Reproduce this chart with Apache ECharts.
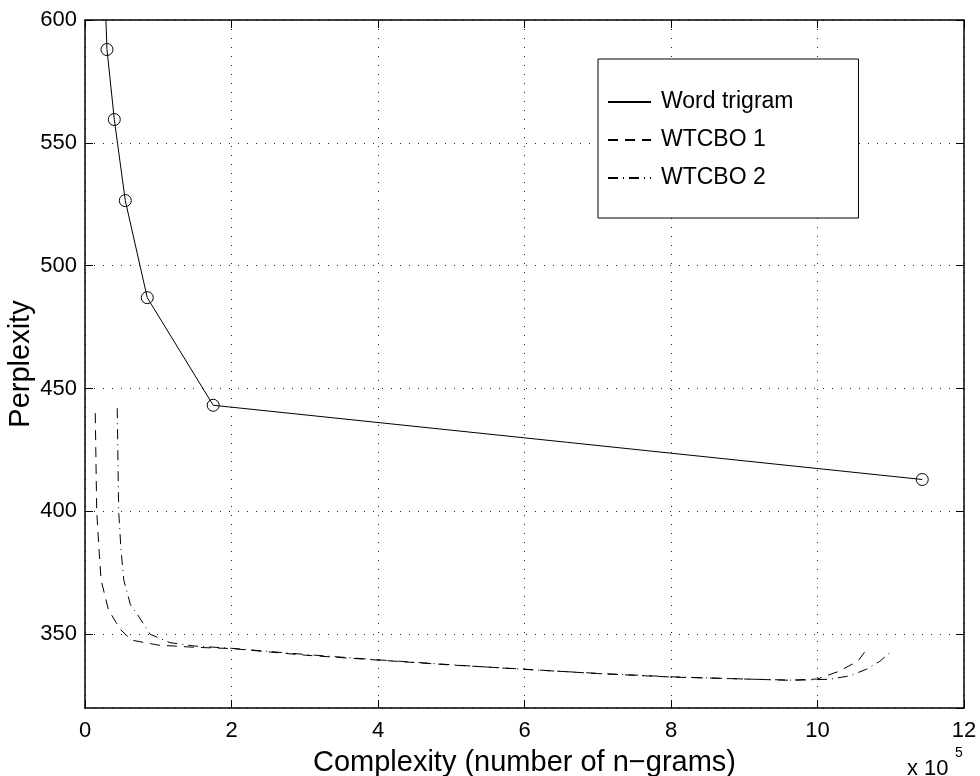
<!DOCTYPE html>
<html>
<head>
<meta charset="utf-8">
<script src="https://cdn.jsdelivr.net/npm/echarts@6/dist/echarts.min.js"></script>
<style>
  html, body { margin: 0; padding: 0; background: #fff; }
  #chart { width: 980px; height: 776px; }
</style>
</head>
<body>
<div id="chart"></div>
<script>
  // complexity in units of 1e5 n-grams, perplexity
  var wordTrigram = [[0.25, 630], [0.30, 588], [0.40, 559.5], [0.55, 526.5], [0.85, 487], [1.75, 443.2], [11.43, 413]]
  var wtcbo1 = [[0.14, 440], [0.15, 420], [0.16, 400], [0.19, 385], [0.22, 372], [0.32, 360], [0.48, 352],
    [0.64, 347.6], [1.0, 345.6], [1.5, 344.7], [2.0, 344.2], [3, 341.5], [4, 339.5], [5, 337.5], [6, 335.8],
    [7, 334], [8, 332.6], [9, 331.8], [9.6, 331.3], [10, 331.8], [10.28, 334.8], [10.55, 339], [10.65, 343]]
  var wtcbo2 = [[0.44, 442], [0.45, 420], [0.46, 400], [0.49, 385], [0.53, 372], [0.62, 362], [0.73, 357.4],
    [0.89, 350], [1.16, 346.6], [1.5, 345.2], [2.0, 344.3], [3, 341.8], [4, 339.6], [5, 337.6], [6, 335.7],
    [7, 334.1], [8, 332.7], [9, 331.8], [9.7, 331.3], [10.17, 331.7], [10.44, 333.1], [10.67, 335.8],
    [10.85, 339], [10.99, 342.6]]
  var seriesNames = ['Word trigram', 'WTCBO 1', 'WTCBO 2']

  var font = 'Liberation Sans, Arial, Helvetica, sans-serif'
  var chart = echarts.init(document.getElementById('chart'))

  var gridLine = {show: true, lineStyle: {color: '#222', width: 1, type: [1, 8]}}
  var tickIn = {show: true, inside: true, length: 8, lineStyle: {color: '#000', width: 1}}
  var axisLn = {show: true, onZero: false, lineStyle: {color: '#000', width: 1.5}}

  var option = {
    animation: false,
    backgroundColor: '#fff',
    textStyle: {fontFamily: font},
    grid: {left: 85, right: 16, top: 20, bottom: 68, containLabel: false, outerBoundsMode: 'none'},
    legend: {
      orient: 'vertical',
      left: 598,
      top: 59,
      data: seriesNames,
      itemWidth: 43,
      itemHeight: 14,
      itemGap: 14,
      padding: [31, 65, 28, 9],
      backgroundColor: '#fff',
      borderColor: '#000',
      borderWidth: 1,
      borderRadius: 0,
      itemStyle: {opacity: 0},
      textStyle: {color: '#000', fontSize: 23, fontFamily: font, lineHeight: 24, padding: [0, 0, 0, 5]}
    },
    xAxis: [
      {
        type: 'value',
        min: 0,
        max: 12,
        interval: 2,
        name: 'Complexity (number of n\u2212grams)',
        nameLocation: 'middle',
        nameGap: 40,
        nameMoveOverlap: false,
        nameTextStyle: {color: '#000', fontSize: 29, fontFamily: font},
        axisLine: axisLn,
        axisTick: tickIn,
        axisLabel: {color: '#000', fontSize: 22, margin: 12, fontFamily: font},
        splitLine: gridLine
      },
      {
        type: 'value',
        position: 'top',
        min: 0,
        max: 12,
        interval: 2,
        axisLine: axisLn,
        axisTick: tickIn,
        axisLabel: {show: false},
        splitLine: {show: false}
      }
    ],
    yAxis: [
      {
        type: 'value',
        min: 320,
        max: 600,
        splitNumber: 5,
        name: 'Perplexity',
        nameLocation: 'middle',
        nameGap: 50,
        nameMoveOverlap: false,
        nameTextStyle: {color: '#000', fontSize: 29, fontFamily: font},
        axisLine: axisLn,
        axisTick: tickIn,
        axisLabel: {color: '#000', fontSize: 22, margin: 8, fontFamily: font, showMinLabel: false},
        splitLine: gridLine
      },
      {
        type: 'value',
        position: 'right',
        min: 320,
        max: 600,
        splitNumber: 5,
        axisLine: axisLn,
        axisTick: tickIn,
        axisLabel: {show: false},
        splitLine: {show: false}
      }
    ],
    graphic: [
      {type: 'text', left: 907, top: 758, style: {text: 'x 10', fontSize: 22, fontFamily: font, fill: '#000'}},
      {type: 'text', left: 955, top: 746, style: {text: '5', fontSize: 14, fontFamily: font, fill: '#000'}}
    ],
    series: [
      {
        name: seriesNames[0],
        type: 'line',
        data: wordTrigram,
        symbol: 'circle',
        symbolSize: 12,
        showSymbol: true,
        clip: true,
        lineStyle: {color: '#000', width: 1, type: 'solid'},
        itemStyle: {color: 'transparent', borderColor: '#000', borderWidth: 1}
      },
      {
        name: seriesNames[1],
        type: 'line',
        data: wtcbo1,
        symbol: 'none',
        smooth: false,
        lineStyle: {color: '#000', width: 1, type: [10, 7]},
        itemStyle: {color: '#000'}
      },
      {
        name: seriesNames[2],
        type: 'line',
        data: wtcbo2,
        symbol: 'none',
        smooth: false,
        lineStyle: {color: '#000', width: 1, type: [10, 5, 1, 5]},
        itemStyle: {color: '#000'}
      }
    ]
  }
  chart.setOption(option)
</script>
</body>
</html>
